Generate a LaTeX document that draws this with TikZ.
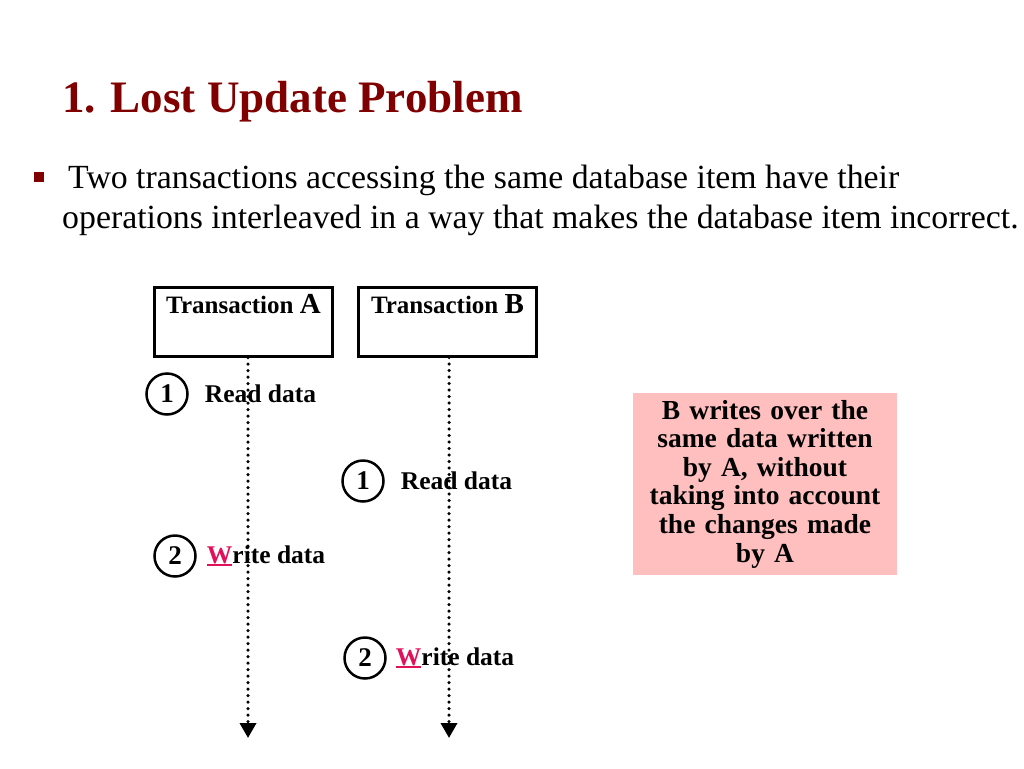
\documentclass[tikz,border=0pt]{standalone}
\usepackage{fontspec}
\setmainfont{Liberation Serif}
\usepackage{tikz}
\usetikzlibrary{arrows.meta,positioning}
\definecolor{cTitle}{HTML}{800000}
\definecolor{cWrite}{HTML}{E0105A}
\definecolor{cNote}{HTML}{FFBFBF}
\newcommand{\fsz}[2]{\fontsize{#1}{#2}\selectfont}
\newcommand{\wul}[1]{\textcolor{cWrite}{\setbox0\hbox{#1}\rlap{\raisebox{-3pt}{\rule{\wd0}{2pt}}}\box0}}
\tikzset{
  ttl/.style={anchor=base west, inner sep=0pt, text=cTitle, font=\bfseries\fsz{45}{50}},
  bul/.style={rectangle, fill=cTitle, minimum size=10pt, inner sep=0pt},
  body/.style={anchor=base west, inner sep=0pt, font=\fsz{33.8}{38}},
  txbox/.style={rectangle, draw, line width=3pt, minimum width=178pt, text height=20pt, text depth=37pt, inner ysep=6pt, font=\bfseries\fsz{25}{28}},
  numc/.style={circle, draw, line width=2.5pt, minimum size=41pt, inner sep=0pt, font=\bfseries\fsz{27}{30}},
  lbl/.style={inner sep=0pt, font=\bfseries\fsz{25.5}{28}},
  note/.style={rectangle, fill=cNote, minimum width=264pt, minimum height=182pt, inner xsep=0pt, text width=264pt, align=center, font=\bfseries\fsz{27.5}{28.6}},
  life/.style={line width=3.5pt, dash pattern=on 0pt off 6.5pt, line cap=round, -{Triangle[length=15pt, width=16pt]}},
}

\begin{document}
\begin{tikzpicture}[x=1pt, y=-1pt]
  \useasboundingbox (0,0) rectangle (1024,768);
  \node[ttl] (title) at (62,112) {1. Lost Update Problem};
  \node[bul] (dot) at (39,177) {};
  \node[body] (line1) at (68,188) {Two transactions accessing the same database item have their};
  \node[body] (line2) at (62,228) {operations interleaved in a way that makes the database item incorrect.};
  \node[txbox] (ta) at (243.5,321.5) {Transaction {\fsz{29}{29}A}};
  \node[txbox] (tb) at (447.5,321.5) {Transaction {\fsz{29}{29}B}};
  \node[numc] (a1) at (167,394) {1};
  \node[lbl, right=16pt of a1] (ra) {Read data};
  \node[numc] (b1) at (363,481) {1};
  \node[lbl, right=16pt of b1] (rb) {Read data};
  \node[numc] (a2) at (175,556) {2};
  \node[lbl, right=10pt of a2] (wa) {\wul{W}rite data};
  \node[numc] (b2) at (365,658) {2};
  \node[lbl, right=9pt of b2] (wb) {\wul{W}rite data};
  \node[note] (msg) at (765,484) {B writes over the\\same data written\\by A, without\\taking into account\\the changes made\\by A};
  \coordinate (endA) at (248,738);
  \coordinate (endB) at (449,738);
  \foreach \t/\e in {ta/endA, tb/endB}
    \draw[life] (\t.south -| \e) -- (\e);
\end{tikzpicture}
\end{document}
